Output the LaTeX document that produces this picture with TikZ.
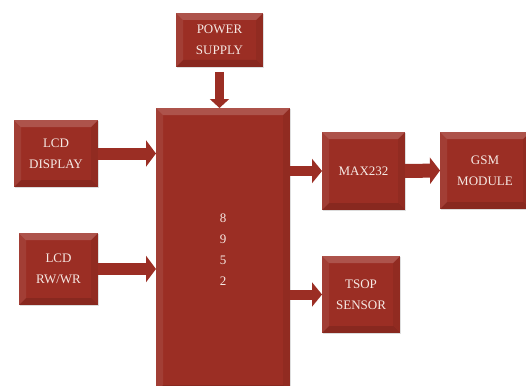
\documentclass[tikz,border=0pt]{standalone}
\usepackage{fontspec}
\setmainfont{Liberation Serif}
\usetikzlibrary{arrows.meta,shadows}
\definecolor{boxred}{HTML}{9B2E24}
\definecolor{boxtext}{HTML}{F6E9E4}
\begin{document}
\begin{tikzpicture}[x=1pt, y=-1pt, every node/.style={font=\fontsize{13}{21}\selectfont}]
\tikzstyle{block} = [rectangle, fill=boxred, text=boxtext, align=center, inner sep=0pt, outer sep=0pt,
drop shadow={opacity=0.25, shadow xshift=1pt, shadow yshift=-1pt},
path picture={
\fill[white, opacity=0.18] (path picture bounding box.north west) -- (path picture bounding box.north east)
-- ([xshift=-7pt, yshift=-7pt]path picture bounding box.north east) -- ([xshift=7pt, yshift=-7pt]path picture bounding box.north west) -- cycle;
\fill[white, opacity=0.08] (path picture bounding box.north west) -- (path picture bounding box.south west)
-- ([xshift=7pt, yshift=7pt]path picture bounding box.south west) -- ([xshift=7pt, yshift=-7pt]path picture bounding box.north west) -- cycle;
\fill[black, opacity=0.12] (path picture bounding box.south west) -- (path picture bounding box.south east)
-- ([xshift=-7pt, yshift=7pt]path picture bounding box.south east) -- ([xshift=7pt, yshift=7pt]path picture bounding box.south west) -- cycle;
\fill[black, opacity=0.06] (path picture bounding box.north east) -- (path picture bounding box.south east)
-- ([xshift=-7pt, yshift=7pt]path picture bounding box.south east) -- ([xshift=-7pt, yshift=-7pt]path picture bounding box.north east) -- cycle;
}]
\tikzstyle{bigarrow} = [draw=boxred, line width=12pt, -{Triangle[length=10pt, width=26pt]}]

\useasboundingbox (0,0) rectangle (526,385);
\clip (0,0) rectangle (526,385);

% Nodes
\node (power) [block, minimum width=87pt, minimum height=54pt] at (219.5,40) {POWER\\SUPPLY};
\node (mcu) [block, minimum width=134pt, minimum height=284pt] at (223,250) {8\\9\\5\\2};
\node (lcd) [block, minimum width=84pt, minimum height=67pt] at (56,153.5) {LCD\\DISPLAY};
\node (lcdrw) [block, minimum width=79pt, minimum height=72pt] at (58.5,269) {LCD\\RW/WR};
\node (max) [block, minimum width=83pt, minimum height=78pt] at (363.5,171) {MAX232};
\node (gsm) [block, minimum width=90pt, minimum height=77pt] at (485,170.5) {GSM\\MODULE};
\node (tsop) [block, minimum width=78pt, minimum height=77pt] at (361,294.5) {TSOP\\SENSOR};

% Arrows
\draw [bigarrow, line width=9pt, -{Triangle[length=9pt, width=19pt]}, shorten <=5pt] (power.south) -- (power.south |- mcu.north);
\draw [bigarrow] (lcd.east) -- (lcd.east -| mcu.west);
\draw [bigarrow] (lcdrw.east) -- (lcdrw.east -| mcu.west);
\draw [bigarrow, line width=10pt, -{Triangle[length=10pt, width=24pt]}] (mcu.east |- max.west) -- (max.west);
\draw [bigarrow, line width=14pt] (max.east) -- (gsm.west);
\draw [bigarrow, line width=10pt, -{Triangle[length=10pt, width=24pt]}] (mcu.east |- tsop.west) -- (tsop.west);
\end{tikzpicture}
\end{document}
